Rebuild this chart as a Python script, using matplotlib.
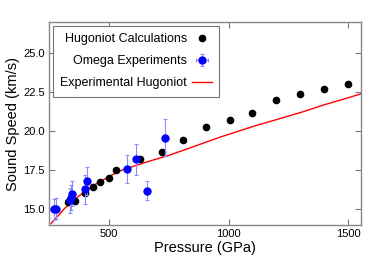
import matplotlib
matplotlib.use("Agg")
import matplotlib.pyplot as plt

plt.rcParams['font.family'] = ['Liberation Sans', 'DejaVu Sans']

# Hugoniot calculations
calc_p = [330, 360, 400, 435, 465, 500, 530, 630, 720, 810, 905, 1005, 1100, 1200, 1300, 1400, 1500]
calc_c = [15.45, 15.56, 16.03, 16.41, 16.77, 16.99, 17.50, 18.21, 18.70, 19.44, 20.26, 20.75, 21.15, 21.99, 22.39, 22.74, 23.01]

# Omega experiments
exp_p = [272, 280, 336, 343, 348, 401, 410, 575, 614, 660, 734]
exp_c = [15.0, 15.06, 15.6, 15.75, 16.0, 16.28, 16.8, 17.6, 18.2, 16.2, 19.6]
exp_cerr = [0.7, 0.7, 0.8, 0.8, 0.8, 0.9, 0.9, 0.9, 1.0, 0.6, 1.2]
exp_perr = [5, 5, 5, 5, 5, 5, 5, 5, 5, 5, 5]

# Experimental Hugoniot
hug_p = [259, 315, 370, 426, 500, 545, 650, 754, 850, 963, 1100, 1200, 1300, 1400, 1500, 1553]
hug_c = [14.1, 15.06, 15.8, 16.45, 17.1, 17.46, 18.0, 18.48, 19.0, 19.62, 20.3, 20.75, 21.2, 21.7, 22.15, 22.4]

fig = plt.figure(figsize=(3.74, 2.62), dpi=100)
ax = fig.add_axes([0.131, 0.141, 0.834, 0.775])

h1, = ax.plot(calc_p, calc_c, 'o', color='black', markersize=4.5, label='Hugoniot Calculations', zorder=3)
h2 = ax.errorbar(exp_p, exp_c, yerr=exp_cerr, xerr=exp_perr, fmt='o', color='blue', markersize=5,
                 ecolor=(0.55, 0.55, 1.0), elinewidth=0.8, capsize=1.5, capthick=0.8,
                 label='Omega Experiments', zorder=4)
h3, = ax.plot(hug_p, hug_c, '-', color='red', linewidth=1.0, label='Experimental Hugoniot', zorder=2)

ax.set_xlim(250, 1553)
ax.set_ylim(14, 27)
ax.set_xticks([500, 1000, 1500])
ax.set_yticks([15.0, 17.5, 20.0, 22.5, 25.0])
ax.set_yticklabels(['15.0', '17.5', '20.0', '22.5', '25.0'])
ax.tick_params(direction='in', top=True, right=True, length=4, width=0.8, color='#777777',
               labelsize=8, pad=3)
for s in ax.spines.values():
    s.set_color('#888888')
    s.set_linewidth(1.0)

ax.set_xlabel('Pressure (GPa)', fontsize=10.5, labelpad=1)
ax.set_ylabel('Sound Speed (km/s)', fontsize=10.5, labelpad=2)

leg = ax.legend([h1, h2, h3], ['Hugoniot Calculations', 'Omega Experiments', 'Experimental Hugoniot'],
                loc='upper left', markerfirst=False, fontsize=9, fancybox=False,
                edgecolor='#777777', framealpha=1, borderaxespad=0.3, handlelength=1.6,
                handletextpad=0.4, labelspacing=0.8, borderpad=0.6)
leg.get_frame().set_linewidth(0.8)

fig.savefig('out.png', dpi=100)
